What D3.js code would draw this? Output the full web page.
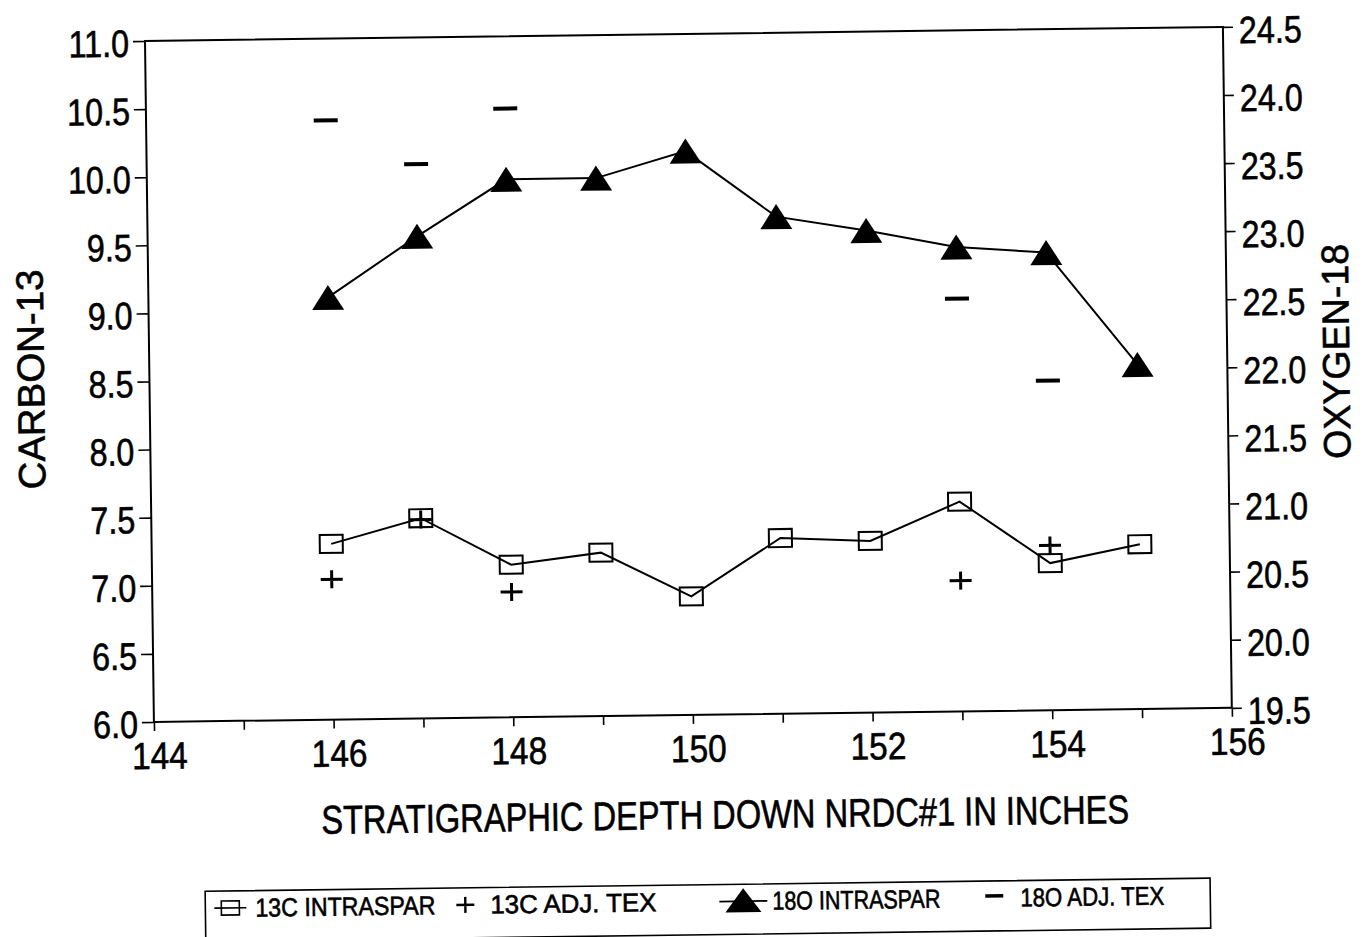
<!DOCTYPE html>
<html>
<head>
<meta charset="utf-8">
<script src="https://cdn.jsdelivr.net/npm/d3@7/dist/d3.min.js"></script>
<style>
  html, body { margin: 0; padding: 0; background: #fff; }
  svg text { font-family: "Liberation Sans", Arial, Helvetica, sans-serif; fill: #000; }
</style>
</head>
<body>
<svg id="chart" width="1366" height="937"></svg>
<script>
// Stratigraphic depth samples (inches)
const depth = [146, 147, 148, 149, 150, 151, 152, 153, 154, 155];
// Intraspar isotope values
const c13Intraspar = [7.29, 7.47, 7.12, 7.20, 6.87, 7.29, 7.26, 7.54, 7.08, 7.21];
const o18Intraspar = [22.60, 23.04, 23.45, 23.45, 23.64, 23.15, 23.04, 22.91, 22.86, 22.03];
// Adjacent texture samples
const adjDepth = [146, 147, 148, 153, 154];
const c13AdjTex = [7.03, 7.46, 6.92, 6.96, 7.21];
const o18AdjTex = [23.90, 23.57, 23.97, 22.53, 21.92];

// Axis ticks
const xTicks = d3.range(144, 157, 1);
const xLabelTicks = [144, 146, 148, 150, 152, 154, 156];
const carbonTicks = [6.0, 6.5, 7.0, 7.5, 8.0, 8.5, 9.0, 9.5, 10.0, 10.5, 11.0];
const oxygenTicks = [19.5, 20.0, 20.5, 21.0, 21.5, 22.0, 22.5, 23.0, 23.5, 24.0, 24.5];

// Legend entries
const legendLabels = ["13C INTRASPAR", "13C ADJ. TEX", "18O INTRASPAR", "18O ADJ. TEX"];

const margin = { left: 145, top: 41 };
const W = 1078, H = 681;

const svg = d3.select("#chart");
// whole sheet sits with a slight tilt
const root = svg.append("g")
  .attr("transform", `rotate(-0.75, ${margin.left}, ${margin.top})`);
const g = root.append("g").attr("transform", `translate(${margin.left},${margin.top})`);

const x = d3.scaleLinear().domain([144, 156]).range([0, W]);
const yC = d3.scaleLinear().domain([6, 11]).range([H, 0]);
const yO = d3.scaleLinear().domain([19.5, 24.5]).range([H, 0]);

const textStroke = sel => sel.attr("stroke", "#000").attr("stroke-width", 0.6);
// narrow the tick numerals to a condensed look
const condense = (sel, k) => sel.each(function () {
  const len = this.getComputedTextLength();
  if (len > 0) d3.select(this).attr("textLength", len * k).attr("lengthAdjust", "spacingAndGlyphs");
});
const tickFont = 38;

// frame
g.append("rect").attr("x", 0).attr("y", 0).attr("width", W).attr("height", H)
  .attr("fill", "none").attr("stroke", "#000").attr("stroke-width", 2);

// bottom axis
const xAxis = g.append("g").attr("transform", `translate(0,${H})`)
  .call(d3.axisBottom(x).tickValues(xTicks).tickSize(9).tickSizeOuter(0)
    .tickFormat(d => xLabelTicks.includes(d) ? d3.format("d")(d) : ""));
xAxis.select(".domain").remove();
xAxis.selectAll("line").attr("stroke", "#000").attr("stroke-width", 1.6);
xAxis.selectAll("text").attr("font-size", tickFont).attr("y", 47).attr("dy", null).attr("dx", 5)
  .attr("font-family", "Liberation Sans, Arial, sans-serif").call(textStroke).call(condense, 0.88);

// left axis (carbon-13)
const lAxis = g.append("g")
  .call(d3.axisLeft(yC).tickValues(carbonTicks).tickSize(12).tickSizeOuter(0).tickFormat(d3.format(".1f")));
lAxis.select(".domain").remove();
lAxis.selectAll("line").attr("stroke", "#000").attr("stroke-width", 1.6);
lAxis.selectAll("text").attr("font-size", tickFont).attr("x", -16).attr("dy", null).attr("y", 15)
  .attr("font-family", "Liberation Sans, Arial, sans-serif").call(textStroke).call(condense, 0.85);

// right axis (oxygen-18)
const rAxis = g.append("g").attr("transform", `translate(${W},0)`)
  .call(d3.axisRight(yO).tickValues(oxygenTicks).tickSize(10).tickSizeOuter(0).tickFormat(d3.format(".1f")));
rAxis.select(".domain").remove();
rAxis.selectAll("line").attr("stroke", "#000").attr("stroke-width", 1.6);
rAxis.selectAll("text").attr("font-size", tickFont).attr("x", 16).attr("dy", null).attr("y", 16)
  .attr("font-family", "Liberation Sans, Arial, sans-serif").call(textStroke).call(condense, 0.85);

// axis titles
g.append("text").attr("transform", `translate(${25.6 - 145 + 14},${378 - 41}) rotate(-90)`)
  .attr("text-anchor", "middle").attr("font-size", 38)
  .attr("textLength", 220).attr("lengthAdjust", "spacingAndGlyphs")
  .text("CARBON-13").call(textStroke);
g.append("text").attr("transform", `translate(${1331 - 145 + 14},${367 - 41}) rotate(-90)`)
  .attr("text-anchor", "middle").attr("font-size", 38)
  .attr("textLength", 215).attr("lengthAdjust", "spacingAndGlyphs")
  .text("OXYGEN-18").call(textStroke);
g.append("text").attr("x", 715 - 145).attr("y", 836 - 41)
  .attr("text-anchor", "middle").attr("font-size", 40)
  .attr("textLength", 808).attr("lengthAdjust", "spacingAndGlyphs")
  .text("STRATIGRAPHIC DEPTH DOWN NRDC#1 IN INCHES").call(textStroke);

// series: 13C intraspar
const cLine = d3.line().x((d, i) => x(depth[i])).y(d => yC(d));
g.append("path").datum(c13Intraspar).attr("d", cLine)
  .attr("fill", "none").attr("stroke", "#000").attr("stroke-width", 2);
const sqW = 23, sqH = 18;
g.selectAll(".sq").data(c13Intraspar).join("rect").attr("class", "sq")
  .attr("x", (d, i) => x(depth[i]) - sqW / 2).attr("y", d => yC(d) - sqH / 2)
  .attr("width", sqW).attr("height", sqH)
  .attr("fill", "none").attr("stroke", "#000").attr("stroke-width", 2);

// series: 18O intraspar
const oLine = d3.line().x((d, i) => x(depth[i])).y(d => yO(d));
g.append("path").datum(o18Intraspar).attr("d", oLine)
  .attr("fill", "none").attr("stroke", "#000").attr("stroke-width", 2);
const triW = 32, triH = 25;
const triPath = (cx, cy, w, h) => `M${cx},${cy - h / 2}L${cx + w / 2},${cy + h / 2}L${cx - w / 2},${cy + h / 2}Z`;
g.selectAll(".tri").data(o18Intraspar).join("path").attr("class", "tri")
  .attr("d", (d, i) => triPath(x(depth[i]), yO(d), triW, triH))
  .attr("fill", "#000");

// series: 13C adjacent texture (plus marks)
const plusPath = (cx, cy, w, h) => `M${cx - w / 2},${cy}H${cx + w / 2}M${cx},${cy - h / 2}V${cy + h / 2}`;
g.selectAll(".plus").data(c13AdjTex).join("path").attr("class", "plus")
  .attr("d", (d, i) => plusPath(x(adjDepth[i]), yC(d), 22, 18))
  .attr("stroke", "#000").attr("stroke-width", 3).attr("fill", "none");

// series: 18O adjacent texture (dash marks)
g.selectAll(".dash").data(o18AdjTex).join("path").attr("class", "dash")
  .attr("d", (d, i) => `M${x(adjDepth[i]) - 12},${yO(d)}H${x(adjDepth[i]) + 12}`)
  .attr("stroke", "#000").attr("stroke-width", 4).attr("fill", "none");

// legend
const lg = root.append("g");
lg.append("rect").attr("x", 194).attr("y", 892).attr("width", 1005).attr("height", 50)
  .attr("fill", "none").attr("stroke", "#000").attr("stroke-width", 1.6);
const ly = 909;
// symbols
lg.append("path").attr("d", `M${203},${ly}H${235}`).attr("stroke", "#000").attr("stroke-width", 1.6);
lg.append("rect").attr("x", 210).attr("y", ly - 7).attr("width", 18).attr("height", 14)
  .attr("fill", "none").attr("stroke", "#000").attr("stroke-width", 1.6);
lg.append("path").attr("d", plusPath(454, ly, 18, 16)).attr("stroke", "#000").attr("stroke-width", 2.4);
lg.append("path").attr("d", `M${708},${ly}H${756}`).attr("stroke", "#000").attr("stroke-width", 1.8);
lg.append("path").attr("d", triPath(732, ly - 1, 36, 24)).attr("fill", "#000");
lg.append("path").attr("d", `M${974},${ly - 2}H${992}`).attr("stroke", "#000").attr("stroke-width", 3.5);
// labels
const labelX = [244, 479, 761, 1009];
const labelLen = [180, 166, 168, 144];
lg.selectAll(".lgt").data(legendLabels).join("text").attr("class", "lgt")
  .attr("x", (d, i) => labelX[i]).attr("y", ly + 9)
  .attr("font-size", 26).attr("textLength", (d, i) => labelLen[i]).attr("lengthAdjust", "spacingAndGlyphs")
  .text(d => d).call(textStroke);
</script>
</body>
</html>
